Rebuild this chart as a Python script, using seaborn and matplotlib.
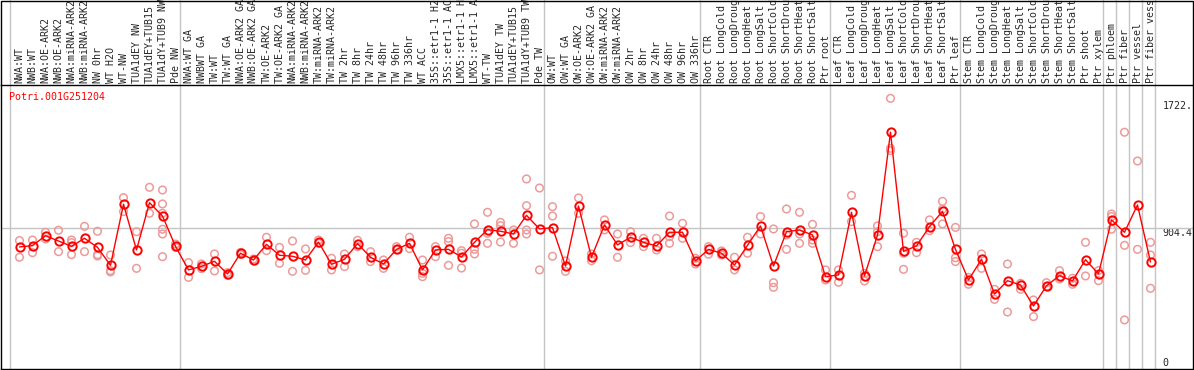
import numpy as np
import pandas as pd
import matplotlib
matplotlib.use("Agg")
import matplotlib.pyplot as plt
from matplotlib.lines import Line2D
import seaborn as sns

labels = [
    "NWA:WT", "NWB:WT", "NWA:OE-ARK2", "NWB:OE-ARK2", "NWA:miRNA-ARK2", "NWB:miRNA-ARK2",
    "NW 0hr", "WT H2O", "WT-NW", "TUA1dEY NW", "TUA1dEY+TUB15", "TUA1dY+TUB9 NW", "Pde NW",
    "NWA:WT GA", "NWBWT GA", "TW:WT", "TW:WT GA", "NWA:OE-ARK2 GA", "NWB:OE-ARK2 GA",
    "TW:OE-ARK2", "TW:OE-ARK2 GA", "NWA:miRNA-ARK2", "NWB:miRNA-ARK2", "TW:miRNA-ARK2",
    "TW:miRNA-ARK2", "TW 2hr", "TW 8hr", "TW 24hr", "TW 48hr", "TW 96hr", "TW 336hr",
    "WT ACC", "35S::etr1-1 H2", "35S::etr1-1 AC", "LMX5::etr1-1 H", "LMX5::etr1-1 A",
    "WT-TW", "TUA1dEY TW", "TUA1dEY+TUB15", "TUA1dY+TUB9 TW", "Pde TW",
    "OW:WT", "OW:WT GA", "OW:OE-ARK2", "OW:OE-ARK2 GA", "OW:miRNA-ARK2", "OW:miRNA-ARK2",
    "OW 2hr", "OW 8hr", "OW 24hr", "OW 48hr", "OW 96hr", "OW 336hr",
    "Root CTR", "Root LongCold", "Root LongDroug", "Root LongHeat", "Root LongSalt",
    "Root ShortCold", "Root ShortDrou", "Root ShortHeat", "Root ShortSalt", "Ptr root",
    "Leaf CTR", "Leaf LongCold", "Leaf LongDroug", "Leaf LongHeat", "Leaf LongSalt",
    "Leaf ShortCold", "Leaf ShortDrou", "Leaf ShortHeat", "Leaf ShortSalt", "Ptr leaf",
    "Stem CTR", "Stem LongCold", "Stem LongDroug", "Stem LongHeat", "Stem LongSalt",
    "Stem ShortCold", "Stem ShortDrou", "Stem ShortHeat", "Stem ShortSalt", "Ptr shoot",
    "Ptr xylem", "Ptr phloem", "Ptr fiber", "Ptr vessel", "Ptr fiber vessel",
]

means = [
    773, 782, 851, 814, 777, 833, 770, 645, 1070, 752, 1081, 988, 777,
    613, 638, 673, 585, 729, 682, 791, 715, 708, 682, 807, 652, 687, 796, 701,
    654, 756, 798, 613, 752, 756, 703, 805, 893, 882, 863, 993, 898,
    907, 640, 1058, 701, 926, 787, 840, 805, 780, 875, 875, 675,
    756, 729, 647, 784, 919, 640, 879, 891, 856, 566,
    578, 1014, 571, 856, 1571, 742, 780, 914, 1021, 756,
    543, 687, 445, 538, 508, 362, 503, 573, 536, 684, 585,
    961, 875, 1065, 668,
]

reps = [
    [817, 701], [821, 733], [875, 828], [889, 740], [821, 803, 719], [916, 740],
    [882, 719, 710], [717, 608, 599], [1116, 1019], [879, 624], [1188, 1007],
    [1169, 1072, 1007, 896, 863, 705], [793, 770],
    [664, 561], [654, 622], [724, 606], [594, 575], [735, 721], [689, 675],
    [840, 747], [770, 659], [814, 603], [759, 610], [821, 798], [694, 613],
    [724, 636], [819, 775], [740, 671], [682, 624], [775, 752], [840, 761],
    [682, 589, 566], [775, 705], [833, 810, 645], [747, 729, 626],
    [933, 756, 724], [1014, 868, 798], [944, 921, 807], [891, 798],
    [1246, 1060, 891, 863], [1183, 613],
    [1053, 988, 708], [675, 603], [1114, 1007], [724, 677], [961, 891],
    [863, 701], [879, 803], [833, 775], [833, 752], [988, 845, 798],
    [937, 833], [694, 654],
    [775, 722], [745, 717], [701, 613], [840, 729], [984, 863],
    [898, 524, 492], [1037, 856, 756], [1014, 863, 798], [930, 821, 798], [613, 543],
    [613, 527], [1132, 949], [589, 536], [919, 879, 775], [1807, 1459, 1443],
    [868, 729, 617], [805, 733], [961, 886], [1090, 1035, 933], [909, 698, 671],
    [561, 513], [724, 624], [478, 408], [654, 320], [520, 478], [404, 288],
    [524, 497], [608, 550], [555, 513], [805, 571], [608, 538],
    [1002, 984, 896], [1571, 784, 265], [1371, 756], [805, 717, 485],
]

gene = "Potri.001G251204"
mid_value = 904.4
ytick_vals = [0, 904.4, 1722]
ytick_text = ["0", "904.4", "1722."]
# last sample of each group (vertical separators)
group_ends = [12, 40, 52, 62, 72, 83, 84, 85, 86, 87]

mean_df = pd.DataFrame({"idx": np.arange(len(means)), "value": means})
rep_df = pd.DataFrame(
    [(i, v) for i, vals in enumerate(reps) for v in vals], columns=["idx", "value"]
)

sns.set_style("white")
plt.rcParams["font.family"] = ["DejaVu Sans Mono"]
plt.rcParams["font.size"] = 7.2

W, H = 1194, 370
fig = plt.figure(figsize=(W / 100, H / 100), dpi=100)
ax_top, ax_bot = 85, 368.5
ax = fig.add_axes([1 / W, (H - ax_bot) / H, 1191.5 / W, (ax_bot - ax_top) / H])

# pixel x = 19.5 + 13*i ; pixel y = 358 - 0.1437*v
ax.set_xlim((1 - 19.5) / 13, (1192.5 - 19.5) / 13)
ax.set_ylim(-(ax_bot - 358) / 0.1437, (358 - ax_top) / 0.1437)

grey = "#c4c4c4"
yext = ax_bot / (ax_bot - ax_top)
ax.axvline(-0.73, ymin=0, ymax=yext, color=grey, lw=1, clip_on=False, zorder=1)
for g in group_ends:
    ax.axvline(g + 0.35, ymin=0, ymax=yext, color=grey, lw=1, clip_on=False, zorder=1)
ax.axhline(mid_value, color=grey, lw=1, zorder=1)

sns.scatterplot(data=rep_df, x="idx", y="value", ax=ax, marker="o", s=30,
                facecolor="none", edgecolor="#ee9a9a", linewidth=1.1, zorder=2)
sns.lineplot(data=mean_df, x="idx", y="value", ax=ax, color="red", lw=1,
             marker="o", markersize=6, markerfacecolor="none",
             markeredgecolor="red", markeredgewidth=1.4, zorder=3)

ax.xaxis.tick_top()
ax.set_xticks(np.arange(len(labels)))
ax.set_xticklabels(labels, rotation=90, va="bottom", ha="center")
ax.tick_params(axis="x", length=0, pad=1.5)

ax.yaxis.tick_right()
ax.set_yticks(ytick_vals)
ax.set_yticklabels(ytick_text)
ax.tick_params(axis="y", length=0, pad=-21.6)
for lab, va in zip(ax.get_yticklabels(), ["top", "top", "bottom"]):
    lab.set_va(va)
    lab.set_ha("left")

ax.set_xlabel("")
ax.set_ylabel("")
for sp in ax.spines.values():
    sp.set_color("black")
    sp.set_linewidth(1)

# gene name, top-left of the plot area
ax.text(-0.82, 1816, gene, color="red", ha="left", va="center", fontsize=7.2)

# outer frame around the label band
fig.add_artist(Line2D([0.5 / W, 0.5 / W, 1192.5 / W, 1192.5 / W],
                      [(H - ax_top) / H, 1 - 0.5 / H, 1 - 0.5 / H, (H - ax_top) / H],
                      transform=fig.transFigure, color="black", lw=1))

fig.savefig("out.png", dpi=100)
